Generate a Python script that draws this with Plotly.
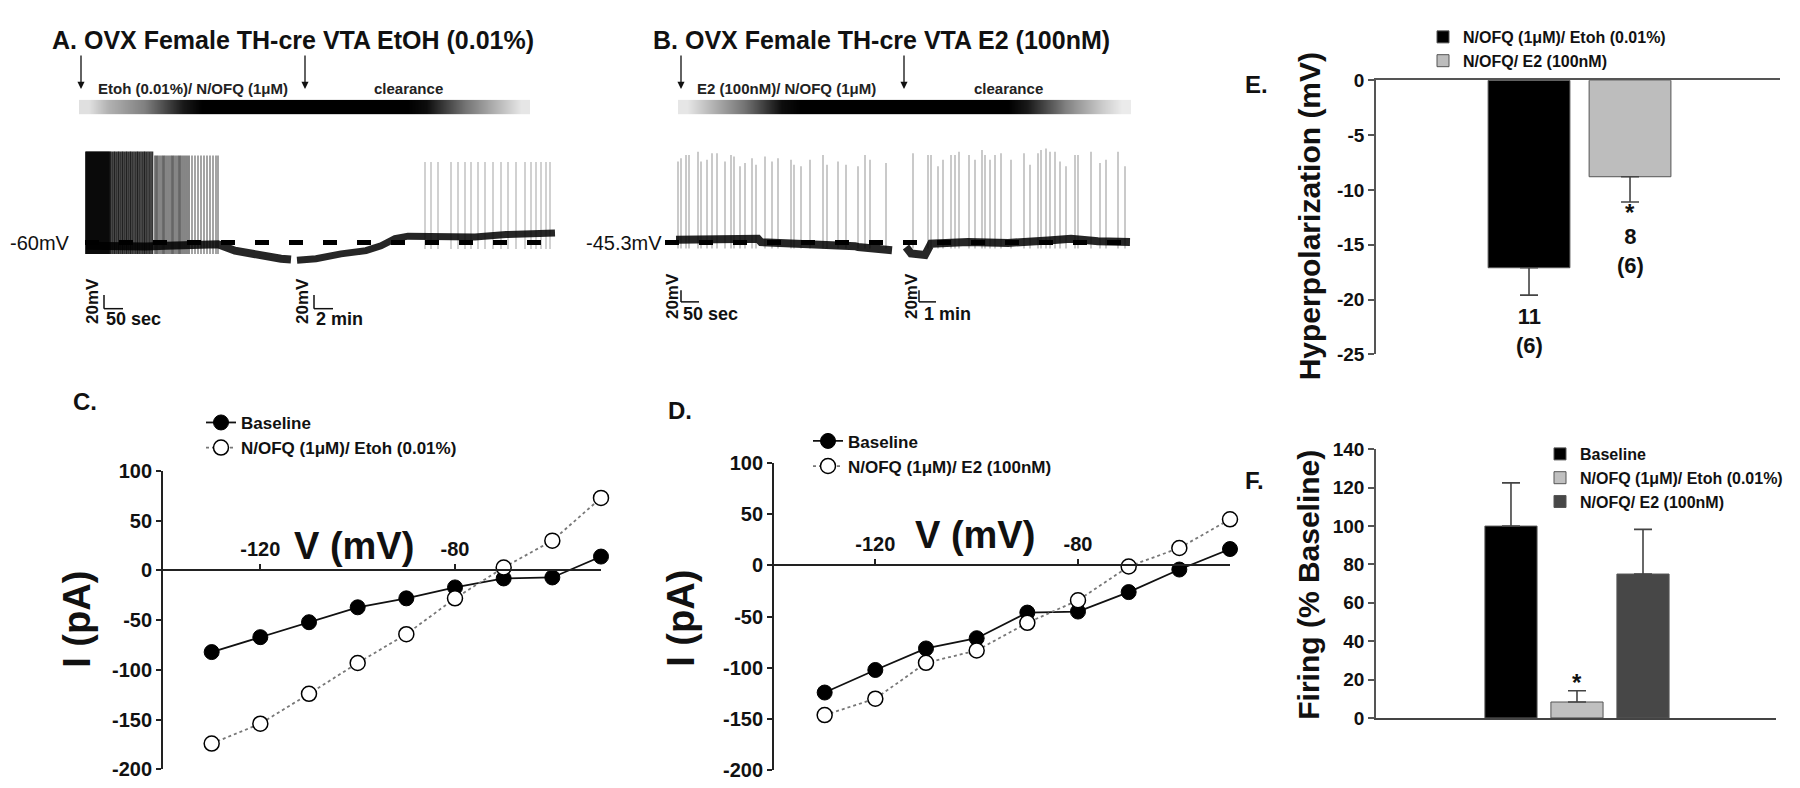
import plotly.graph_objects as go

W, H = 1800, 788
FONT = "Liberation Sans, Arial, sans-serif"

def px(x):
    return x / W

def py(y):
    return 1 - y / H

# ---------------- DATA ----------------
# Panel A: membrane potential trace (time in display units, mV)
a_rest = -60
a_mem1_t = [0, 20, 40, 60, 80, 100, 120, 132, 149, 165, 182, 195, 205]
a_mem1_v = [-62, -62.5, -62, -62.5, -62, -61.5, -61, -61, -65, -67, -69, -70, -70.5]
a_mem2_t = [211, 230, 255, 280, 295, 309, 322, 350, 389, 420, 455, 469]
a_mem2_v = [-71, -70, -67, -65, -62, -57.5, -56, -56, -56.5, -55, -54, -54]
a_spk_g1 = [0, 1, 2, 3, 4, 5, 6, 7, 8, 9, 10, 11, 12, 13, 14, 15, 16, 17, 18, 19, 20, 21, 22, 23]
a_spk_g2 = [24, 25, 26.5, 28, 29, 30.5, 32, 33, 34.5, 36, 37, 38.5, 40, 41, 42.5, 44, 45, 46.5, 48, 49.5, 51, 52,
            53.5, 55, 56.5, 58, 59, 60.5, 62, 63.5, 65, 66.5]
a_spk_g3 = [69, 70.5, 72, 74, 76, 77.5, 79, 81, 83, 85, 86.5, 88, 90, 92, 93.5, 95, 97, 99, 101, 103]
a_spk_g4 = [106, 109, 112, 115, 118, 121, 124, 127, 130, 132]
a_spk_rec = [339, 345, 352, 365, 372, 379, 385, 392, 399, 407, 415, 422, 430, 439, 445, 450, 455, 460, 464]
a_peak_early, a_peak_late, a_peak_rec = -3.5, -6, -10
a_trough_early, a_trough_rec = -67, -64

# Panel B trace
b_rest = -45.3
b_mem1_t = [0, 42, 50, 82, 85, 115, 120, 145, 150, 179, 182, 212, 216]
b_mem1_v = [-43.5, -43, -42.5, -43, -45, -45.5, -46, -46.5, -47, -47.5, -48, -49, -50]
b_mem2_t = [230, 235, 249, 255, 292, 332, 372, 395, 422, 454]
b_mem2_v = [-48, -52, -53, -46, -45, -45.5, -44, -43, -44.5, -45]
b_spk1_t = [2, 5, 10, 13, 22, 25, 31, 36, 41, 49, 55, 58, 64, 69, 76, 80, 89, 96, 102, 115, 118, 125, 134, 147, 151,
            162, 170, 182, 189, 194, 210]
b_spk1_p = [5, 7, 9, 9, 11, 5, 6, 10, 10, 5, 9, 8, 2, 4, 7, 3, 8, 5, 7, 6, 3, 2, 6, 9, 3, 5, 3, 2, 9, 6, 4]
b_spk2_t = [237, 252, 255, 262, 267, 275, 279, 283, 293, 299, 306, 309, 314, 319, 325, 335, 348, 354, 362, 365, 370,
            374, 379, 384, 390, 399, 402, 415, 424, 430, 442, 449]
b_spk2_p = [10, 9, 9, 2, 6, 9, 9, 11, 9, 6, 12, 9, 6, 9, 10, 6, 10, 3, 10, 12, 13, 11, 11, 5, 2, 9, 9, 11, 4, 6, 11, 2]
b_trough = -49

# perfusion gradient bars (0 = white, 1 = black)
grad_a = [0.12, 0.3, 0.4, 0.5, 0.7, 0.9, 1, 1, 1, 1, 1, 1, 1, 1, 1, 1, 1, 1, 0.95, 0.75, 0.55, 0.4, 0.25, 0.1]
grad_b = [0.1, 0.25, 0.4, 0.55, 0.75, 0.95, 1, 1, 1, 1, 1, 1, 1, 1, 1, 1, 1, 1, 0.9, 0.7, 0.5, 0.35, 0.2, 0.08]

# Panels C & D: I-V curves
iv_v = [-130, -120, -110, -100, -90, -80, -70, -60, -50]
iv_base_c = [-82, -67, -52, -37, -28, -17, -8, -7, 14]
iv_drug_c = [-174, -154, -124, -93, -64, -28, 3, 30, 73]
iv_base_d = [-124, -102, -81, -71, -46, -45, -26, -4, 16]
iv_drug_d = [-146, -130, -95, -83, -56, -34, -1, 17, 45]
iv_yticks = [-200, -150, -100, -50, 0, 50, 100]
iv_xticks = [-120, -80]

# Panel E: hyperpolarization
e_groups = ["N/OFQ (1\u03bcM)/ Etoh (0.01%)", "N/OFQ/ E2 (100nM)"]
e_mean = [-17.1, -8.8]
e_sem = [2.5, 2.3]
e_n = ["11<br>(6)", "8<br>(6)"]
e_yticks = [-25, -20, -15, -10, -5, 0]

# Panel F: firing
f_groups = ["Baseline", "N/OFQ (1\u03bcM)/ Etoh (0.01%)", "N/OFQ/ E2 (100nM)"]
f_mean = [100, 8.3, 75]
f_sem = [22.5, 5.9, 23.3]
f_n = ["", "11<br>(6)", "8<br>(6)"]
f_yticks = [0, 20, 40, 60, 80, 100, 120, 140]


def labels(vals):
    return [str(v) for v in vals]   # plain hyphen minus, as in the original


# ---------------- FIGURE ----------------
fig = go.Figure()


def spikes(times, trough, peaks):
    xs, ys = [], []
    if not isinstance(peaks, list):
        peaks = [peaks] * len(times)
    for t, p in zip(times, peaks):
        xs += [t, t, None]
        ys += [trough, p, None]
    return xs, ys


def line(x, y, xa, ya, color, width, dash="solid"):
    fig.add_trace(go.Scatter(x=x, y=y, xaxis=xa, yaxis=ya, mode="lines",
                             line=dict(color=color, width=width, dash=dash),
                             showlegend=False, hoverinfo="skip"))


# Panel A trace
line(a_mem1_t, a_mem1_v, "x", "y", "rgba(0,0,0,0.85)", 8)
line(a_mem2_t, a_mem2_v, "x", "y", "rgba(0,0,0,0.85)", 7)
for grp, col, pk in [(a_spk_g1, "rgba(0,0,0,1)", a_peak_early),
                     (a_spk_g2, "rgba(0,0,0,0.8)", a_peak_early),
                     (a_spk_g3, "rgba(0,0,0,0.6)", a_peak_late),
                     (a_spk_g4, "rgba(0,0,0,0.45)", a_peak_late)]:
    sx, sy = spikes(grp, a_trough_early, pk)
    line(sx, sy, "x", "y", col, 1.6)
sx, sy = spikes(a_spk_rec, a_trough_rec, a_peak_rec)
line(sx, sy, "x", "y", "rgba(0,0,0,0.3)", 1.2)
line([a_mem1_t[0] - 1, a_mem2_t[-1] + 1], [a_rest, a_rest], "x", "y", "black", 5, "14px,20px")

# gradient bars
for z, xa, ya in [(grad_a, "x2", "y2"), (grad_b, "x4", "y4")]:
    fig.add_trace(go.Heatmap(z=[z], xaxis=xa, yaxis=ya, zmin=0, zmax=1, showscale=False, zsmooth="best",
                             colorscale=[[0, "white"], [1, "black"]], hoverinfo="skip"))

# Panel B trace
line(b_mem1_t, b_mem1_v, "x3", "y3", "rgba(0,0,0,0.85)", 8)
line(b_mem2_t, b_mem2_v, "x3", "y3", "rgba(0,0,0,0.85)", 8)
sx, sy = spikes(b_spk1_t, b_trough, b_spk1_p)
line(sx, sy, "x3", "y3", "rgba(0,0,0,0.35)", 1.2)
sx, sy = spikes(b_spk2_t, b_trough, b_spk2_p)
line(sx, sy, "x3", "y3", "rgba(0,0,0,0.35)", 1.2)
line([b_mem1_t[0] - 11, b_mem2_t[-1] + 10], [b_rest, b_rest], "x3", "y3", "black", 5, "14px,20px")

# Panels C & D
for xa, ya, base, drug, lg, drugname in [("x5", "y5", iv_base_c, iv_drug_c, "legend", "N/OFQ (1\u03bcM)/ Etoh (0.01%)"),
                                         ("x6", "y6", iv_base_d, iv_drug_d, "legend2", "N/OFQ (1\u03bcM)/ E2 (100nM)")]:
    fig.add_trace(go.Scatter(x=iv_v, y=base, xaxis=xa, yaxis=ya, mode="lines+markers", name="Baseline",
                             legend=lg, cliponaxis=False,
                             line=dict(color="#111", width=1.8),
                             marker=dict(symbol="circle", size=15, color="black", line=dict(color="black", width=1))))
    fig.add_trace(go.Scatter(x=iv_v, y=drug, xaxis=xa, yaxis=ya, mode="lines+markers", name=drugname,
                             legend=lg, cliponaxis=False,
                             line=dict(color="#777", width=1.8, dash="dot"),
                             marker=dict(symbol="circle", size=15, color="white", line=dict(color="black", width=1.5))))

# Panel E
e_cols = ["black", "#bdbdbd"]
for g, m, s, c in zip(e_groups, e_mean, e_sem, e_cols):
    fig.add_trace(go.Bar(x=[g], y=[m], xaxis="x7", yaxis="y7", width=0.81, name=g, legend="legend3",
                         marker=dict(color=c, line=dict(color="#555", width=1)),
                         error_y=dict(type="data", symmetric=False, array=[0], arrayminus=[s],
                                      color="#444", thickness=1.6, width=9)))

# Panel F
f_cols = ["black", "#c0c0c0", "#474747"]
for g, m, s, c in zip(f_groups, f_mean, f_sem, f_cols):
    fig.add_trace(go.Bar(x=[g], y=[m], xaxis="x8", yaxis="y8", width=0.79, name=g, legend="legend4",
                         marker=dict(color=c, line=dict(color="#555", width=1)),
                         error_y=dict(type="data", symmetric=False, array=[s], arrayminus=[0],
                                      color="#444", thickness=1.6, width=9)))

# ---------------- LAYOUT ----------------
hidden = dict(visible=False, showgrid=False, zeroline=False, fixedrange=True)
bold = "bold"
iv_axis = dict(showline=True, linecolor="#222", linewidth=1.8, ticks="outside", ticklen=5, tickwidth=1.5,
               tickcolor="#222", showgrid=False, zeroline=False,
               tickfont=dict(family=FONT, size=20, weight=bold, color="#111"))
bar_y = dict(showline=True, linecolor="#555", linewidth=1.6, ticks="outside", ticklen=6, tickwidth=1.5,
             tickcolor="#555", showgrid=False, zeroline=False,
             tickfont=dict(family=FONT, size=19, weight=bold, color="#111"))
leg = dict(xanchor="left", yanchor="top", bgcolor="rgba(0,0,0,0)", tracegroupgap=0)

layout = dict(
    width=W, height=H, margin=dict(l=0, r=0, t=0, b=0), autosize=False,
    paper_bgcolor="white", plot_bgcolor="white", barmode="overlay",
    font=dict(family=FONT, color="black"),
    xaxis=dict(hidden, domain=[px(77), px(548)], range=[-1, 470], anchor="y"),
    yaxis=dict(hidden, domain=[py(260), py(120)], range=[-78.07, 6.27], anchor="x"),
    xaxis2=dict(hidden, domain=[px(71), px(522)], range=[-0.5, 23.5], anchor="y2"),
    yaxis2=dict(hidden, domain=[py(98), py(83)], range=[-0.5, 0.5], anchor="x2"),
    xaxis3=dict(hidden, domain=[px(657), px(1135)], range=[-11, 467], anchor="y3"),
    yaxis3=dict(hidden, domain=[py(260), py(120)], range=[-63.37, 20.97], anchor="x3"),
    xaxis4=dict(hidden, domain=[px(670), px(1123)], range=[-0.5, 23.5], anchor="y4"),
    yaxis4=dict(hidden, domain=[py(98), py(83)], range=[-0.5, 0.5], anchor="x4"),
    xaxis5=dict(iv_axis, domain=[px(155), px(593)], range=[-140, -50], anchor="free", position=py(567),
                side="top", tickvals=iv_xticks, ticktext=labels(iv_xticks)),
    yaxis5=dict(iv_axis, domain=[py(772), py(465)], range=[-200, 100], anchor="x5", tickvals=iv_yticks,
                ticktext=labels(iv_yticks)),
    xaxis6=dict(iv_axis, domain=[px(766), px(1222)], range=[-140, -50], anchor="free", position=py(562),
                side="top", tickvals=iv_xticks, ticktext=labels(iv_xticks)),
    yaxis6=dict(iv_axis, domain=[py(773), py(456.7)], range=[-200, 100], anchor="x6", tickvals=iv_yticks,
                ticktext=labels(iv_yticks)),
    xaxis7=dict(domain=[px(1368), px(1772)], type="category", categoryarray=e_groups, range=[-1.515, 2.485],
                side="top", anchor="y7", showline=True, linecolor="#555", linewidth=2, showticklabels=False,
                ticks="", showgrid=False, zeroline=False),
    yaxis7=dict(bar_y, domain=[py(345), py(63)], range=[-25, 0], anchor="x7", tickvals=e_yticks,
                ticktext=labels(e_yticks)),
    xaxis8=dict(domain=[px(1368), px(1768)], type="category", categoryarray=f_groups, range=[-2.045, 4.015],
                anchor="y8", showline=True, linecolor="#444", linewidth=2, showticklabels=False,
                ticks="", showgrid=False, zeroline=False),
    yaxis8=dict(bar_y, domain=[py(719), py(442.7)], range=[0, 140], anchor="x8", tickvals=f_yticks,
                ticktext=labels(f_yticks)),
    legend=dict(leg, x=px(193), y=py(397), font=dict(family=FONT, size=17, weight=bold, color="#111")),
    legend2=dict(leg, x=px(800), y=py(416), font=dict(family=FONT, size=17, weight=bold, color="#111")),
    legend3=dict(leg, x=px(1415), y=py(1), font=dict(family=FONT, size=16, weight=bold, color="#111")),
    legend4=dict(leg, x=px(1532), y=py(430), font=dict(family=FONT, size=16, weight=bold, color="#111")),
)
fig.update_layout(**layout)

ann = []


def text(t, x, y, size, weight="bold", xanchor="center", yanchor="middle", angle=0, color="#111",
         xref="paper", yref="paper"):
    ann.append(dict(text=t, x=x, y=y, xref=xref, yref=yref, showarrow=False, xanchor=xanchor, yanchor=yanchor,
                    textangle=angle, font=dict(family=FONT, size=size, weight=weight, color=color)))


# titles
text("A. OVX Female TH-cre VTA EtOH (0.01%)", px(42), py(22), 25, xanchor="left")
text("B. OVX Female TH-cre VTA E2 (100nM)", px(643), py(22), 25, xanchor="left")
text("Etoh (0.01%)/ N/OFQ (1\u03bcM)", px(88), py(71), 15, xanchor="left", color="#222")
text("clearance", px(364), py(71), 15, xanchor="left", color="#222")
text("E2 (100nM)/ N/OFQ (1\u03bcM)", px(687), py(71), 15, xanchor="left", color="#222")
text("clearance", px(964), py(71), 15, xanchor="left", color="#222")
text("-60mV", px(64), py(230), 20, weight="normal", xanchor="right")
text("-45.3mV", px(656), py(230), 20, weight="normal", xanchor="right")
# scale bar labels
text("20mV", px(85), py(290), 17, angle=-90)
text("50 sec", px(96), py(309), 18, xanchor="left")
text("20mV", px(295), py(290), 17, angle=-90)
text("2 min", px(306), py(309), 18, xanchor="left")
text("20mV", px(664), py(285), 17, angle=-90)
text("50 sec", px(673), py(303), 18, xanchor="left")
text("20mV", px(903), py(285), 17, angle=-90)
text("1 min", px(914), py(303), 18, xanchor="left")
# panel letters
text("C.", px(77), py(393), 24)
text("D.", px(672), py(403), 24)
text("E.", px(1248), py(67), 24)
text("F.", px(1246), py(475), 24)
# axis titles
text("V (mV)", px(346), py(542), 38)
text("V (mV)", px(967), py(531), 38)
text("I (pA)", px(69), py(618), 38, angle=-90)
text("I (pA)", px(673), py(617), 38, angle=-90)
text("Hyperpolarization (mV)", px(1301), py(203), 30, angle=-90)
text("Firing (% Baseline)", px(1301), py(582), 30, angle=-90)
# n labels and significance
text(e_n[0], e_groups[0], -22.9, 22, xref="x7", yref="y7")
text("*", e_groups[1], -12.1, 24, xref="x7", yref="y7")
text(e_n[1], e_groups[1], -15.6, 22, xref="x7", yref="y7")
text("*", f_groups[1], 18.7, 24, xref="x8", yref="y8")
text(f_n[1], f_groups[1], -17, 22, xref="x8", yref="y8")
text(f_n[2], f_groups[2], -17, 22, xref="x8", yref="y8")

# application arrows
for xa in [73, 297, 673, 896]:
    ann.append(dict(x=px(xa), y=py(72), xref="paper", yref="paper", text="", showarrow=True,
                    ax=0, ay=-35, arrowhead=2, arrowsize=1.1, arrowwidth=1.3, arrowcolor="#111"))

fig.update_layout(annotations=ann)

# scale bars
shapes = []
for (xv, y0, y1, xh) in [(96, 284, 298, 115), (306, 284, 298, 325), (673, 279, 291, 691), (911, 279, 291, 928)]:
    shapes.append(dict(type="line", xref="paper", yref="paper", x0=px(xv), x1=px(xv), y0=py(y0), y1=py(y1),
                       line=dict(color="#111", width=1.5)))
    shapes.append(dict(type="line", xref="paper", yref="paper", x0=px(xv), x1=px(xh), y0=py(y1), y1=py(y1),
                       line=dict(color="#111", width=1.5)))
fig.update_layout(shapes=shapes)

fig.write_html("out.html")
